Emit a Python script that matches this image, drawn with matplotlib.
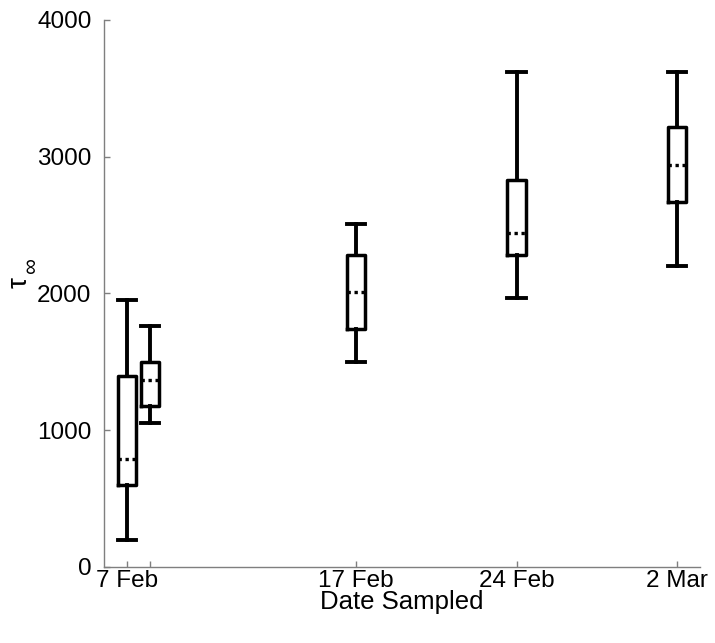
import matplotlib
matplotlib.use("Agg")
import matplotlib.pyplot as plt

plt.rcParams["font.family"] = ["Liberation Sans", "DejaVu Sans"]

# days after 7 Feb (leap year, so 2 Mar is day 24)
days = [0, 1, 10, 17, 24]
whislo = [200, 1050, 1500, 1970, 2200]
q1 = [600, 1180, 1740, 2280, 2670]
med = [790, 1370, 2010, 2440, 2940]
q3 = [1400, 1500, 2280, 2830, 3220]
whishi = [1950, 1760, 2510, 3620, 3620]

tick_pos = [0, 1, 10, 17, 24]
tick_labels = ["7 Feb", "", "17 Feb", "24 Feb", "2 Mar"]

stats = []
for i in range(len(days)):
    stats.append({"whislo": whislo[i], "q1": q1[i], "med": med[i],
                  "q3": q3[i], "whishi": whishi[i], "fliers": []})

fig = plt.figure(figsize=(7.15, 6.43), dpi=100)
ax = fig.add_axes([0.1455, 0.1182, 0.8335, 0.8508])

lw = 2.8
ax.bxp(stats, positions=days, widths=0.8, capwidths=0.8, showfliers=False,
       boxprops=dict(color="black", linewidth=2.5),
       whiskerprops=dict(color="black", linewidth=lw, linestyle="-"),
       capprops=dict(color="black", linewidth=lw),
       medianprops=dict(color="black", linewidth=2.4, linestyle=(0, (1, 1.1))),
       manage_ticks=False)

ax.set_xlim(-1, 25)
ax.set_ylim(0, 4000)
ax.set_yticks([0, 1000, 2000, 3000, 4000])
ax.set_xticks(tick_pos)
ax.set_xticklabels(tick_labels)

for s in ["top", "right"]:
    ax.spines[s].set_visible(False)
for s in ["left", "bottom"]:
    ax.spines[s].set_color("#7f7f7f")
    ax.spines[s].set_linewidth(1.0)

ax.tick_params(direction="in", length=4, width=1.0, color="#7f7f7f",
               labelsize=17.5, labelcolor="black")
ax.tick_params(axis="x", pad=2)
ax.tick_params(axis="y", pad=9)

ax.set_xlabel("Date Sampled", fontsize=18.5, labelpad=-1)

# y label: tau with a small infinity subscript
ax.set_ylabel("τ", fontsize=20)
ax.yaxis.set_label_coords(-0.12, 0.52)
ax.text(-0.1225, 0.55, "∞", fontsize=16, rotation=90, transform=ax.transAxes,
        ha="center", va="center")

fig.savefig("out.png", dpi=100)
